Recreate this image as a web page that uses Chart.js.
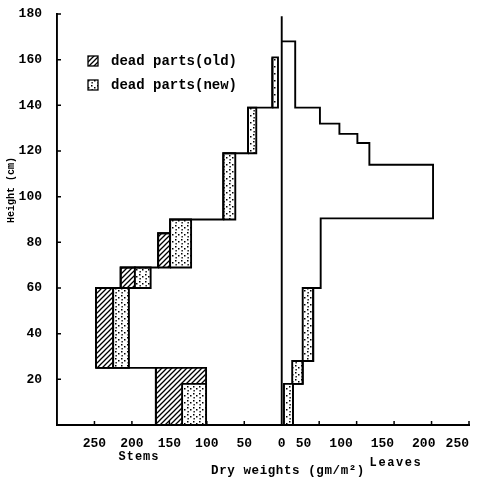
<!DOCTYPE html>
<html><head><meta charset="utf-8">
<script src="https://cdn.jsdelivr.net/npm/chart.js@4/dist/chart.umd.min.js"></script>
<style>html,body{margin:0;padding:0;background:#fff;}</style>
</head><body>
<canvas id="c" width="478" height="482"></canvas>
<script>
// ---- data (heights in cm, dry weights in gm/m^2) ----
const xTicks = [-250, -200, -150, -100, -50, 0, 50, 100, 150, 200, 250];
const xTickLabels = ['250', '200', '150', '100', '50', '0', '50    ', '100    ', '150   ', '200  ', '250   '];
const yTicks = [20, 40, 60, 80, 100, 120, 140, 160, 180];

// stems: dead parts (old)
const stemOldLow  = [0, 25, 60, 69];
const stemOldHigh = [25, 60, 69, 84];
const stemOldFrom = [101, 225, 196, 149];
const stemOldTo   = [168, 248, 215, 165];
// stems: dead parts (new)
const stemNewLow  = [0, 25, 60, 69, 90, 119, 139];
const stemNewHigh = [18, 60, 69, 90, 119, 139, 161];
const stemNewFrom = [101, 204, 175, 121, 62, 34, 5];
const stemNewTo   = [133, 225, 196, 149, 78, 45, 12.5];
// stems: outer profile per layer
const stemLayerLow  = [0, 25, 60, 69, 84, 90, 119, 139];
const stemLayerHigh = [25, 60, 69, 84, 90, 119, 139, 161];
const stemTotal     = [168, 248, 215, 165, 149, 78, 45, 12.5];

// leaves: profile per layer
const leafLow   = [0, 18, 28, 60, 90.5, 114, 123.5, 127.5, 132, 139];
const leafHigh  = [18, 28, 60, 90.5, 114, 123.5, 127.5, 132, 139, 168];
const leafTotal = [15, 28, 42, 52, 202, 117, 101, 77, 51, 18];
// leaves: dead parts (new)
const leafNewLow  = [0, 18, 28];
const leafNewHigh = [18, 28, 60];
const leafNewFrom = [3, 14, 28];
const leafNewTo   = [15, 28, 42];

const centreTop = 179;
const legendLabels = ['dead parts(old)', 'dead parts(new)'];

// ---- patterns ----
function makeHatch(){
  const c = document.createElement('canvas'); c.width = 5; c.height = 5;
  const g = c.getContext('2d');
  g.fillStyle = '#fff'; g.fillRect(0,0,5,5);
  g.strokeStyle = '#000'; g.lineWidth = 1.3; g.lineCap='square';
  g.beginPath();
  g.moveTo(0,5); g.lineTo(5,0);
  g.moveTo(-1,1); g.lineTo(1,-1);
  g.moveTo(4,6); g.lineTo(6,4);
  g.stroke();
  return g.createPattern(c, 'repeat');
}
function makeDots(){
  const c = document.createElement('canvas'); c.width = 6; c.height = 7;
  const g = c.getContext('2d');
  g.fillStyle = '#fff'; g.fillRect(0,0,6,7);
  g.fillStyle = '#000';
  g.fillRect(1,1,1.5,1.5);
  g.fillRect(4,3,1.5,1.5);
  g.fillRect(1.5,5,1.3,1.5);
  return g.createPattern(c, 'repeat');
}
const HATCH = makeHatch();
const DOTS = makeDots();

function rect(x0, x1, y0, y1){
  return [{x:x0,y:y0},{x:x1,y:y0},{x:x1,y:y1},{x:x0,y:y1},{x:x0,y:y0}];
}
const LW = 1.9;
const datasets = [];
function addRect(pts, pat, order){
  datasets.push({data: pts, showLine: true, fill: 'shape', backgroundColor: pat,
    borderColor: '#000', borderWidth: LW, pointRadius: 0, tension: 0, order: order,
    borderJoinStyle: 'miter'});
}
for (let i = 0; i < stemOldLow.length; i++)
  addRect(rect(-stemOldTo[i], -stemOldFrom[i], stemOldLow[i], stemOldHigh[i]), HATCH, 3);
for (let i = 0; i < stemNewLow.length; i++)
  addRect(rect(-stemNewTo[i], -stemNewFrom[i], stemNewLow[i], stemNewHigh[i]), DOTS, 2);
for (let i = 0; i < leafNewLow.length; i++)
  addRect(rect(leafNewFrom[i], leafNewTo[i], leafNewLow[i], leafNewHigh[i]), DOTS, 2);

// stem profile
const stemProfile = [];
for (let i = stemTotal.length - 1; i >= 0; i--) {
  stemProfile.push({x: -stemTotal[i], y: stemLayerHigh[i]});
  stemProfile.push({x: -stemTotal[i], y: stemLayerLow[i]});
}
// leaf profile
const leafProfile = [{x: 0, y: leafHigh[leafHigh.length-1]}];
for (let i = leafTotal.length - 1; i >= 0; i--) {
  leafProfile.push({x: leafTotal[i], y: leafHigh[i]});
  leafProfile.push({x: leafTotal[i], y: leafLow[i]});
}
function addLine(pts){
  datasets.push({data: pts, showLine: true, fill: false, borderColor: '#000',
    borderWidth: LW, pointRadius: 0, tension: 0, order: 1, borderJoinStyle: 'miter'});
}
addLine(stemProfile);
addLine(leafProfile);
addLine([{x:0,y:0},{x:0,y:centreTop}]);

const MONO = '"Liberation Mono", "DejaVu Sans Mono", monospace';

const decor = {
  id: 'decor',
  afterDraw(chart){
    const ctx = chart.ctx, xs = chart.scales.x, ys = chart.scales.y;
    const a = chart.chartArea;
    ctx.save();
    ctx.strokeStyle = '#000'; ctx.lineWidth = 1.5;
    // inward tick marks
    ctx.beginPath();
    xTicks.forEach(v => { if (v === 0) return; const px = xs.getPixelForValue(v);
      ctx.moveTo(px, a.bottom); ctx.lineTo(px, a.bottom - 4); });
    yTicks.forEach(v => { const py = ys.getPixelForValue(v);
      ctx.moveTo(a.left, py); ctx.lineTo(a.left + 4, py); });
    ctx.stroke();

    // legend
    const rows = [{y: 61, pat: HATCH}, {y: 85, pat: DOTS}];
    rows.forEach((r, i) => {
      ctx.fillStyle = r.pat; ctx.fillRect(88, r.y - 5, 10, 10);
      ctx.lineWidth = 1.3; ctx.strokeRect(88, r.y - 5, 10, 10);
      ctx.fillStyle = '#000'; ctx.font = 'bold 14px ' + MONO;
      ctx.textAlign = 'left'; ctx.textBaseline = 'middle';
      ctx.fillText(legendLabels[i], 111, r.y);
    });

    // axis titles
    ctx.fillStyle = '#000'; ctx.textAlign = 'center'; ctx.textBaseline = 'middle';
    ctx.font = 'bold 12px ' + MONO;
    ctx.letterSpacing = '1px';
    ctx.fillText('Stems', 139, 457);
    ctx.letterSpacing = '1.6px';
    ctx.fillText('Leaves', 396, 463);
    ctx.letterSpacing = '0.6px';
    ctx.font = 'bold 12.5px ' + MONO;
    ctx.fillText('Dry weights (gm/m\u00B2)', 288, 471);
    ctx.letterSpacing = '0px';
    ctx.translate(11, 190); ctx.rotate(-Math.PI/2);
    ctx.font = 'bold 10px ' + MONO;
    ctx.fillText('Height (cm)', 0, 0);
    ctx.restore();
  }
};

new Chart(document.getElementById('c'), {
  type: 'scatter',
  data: { datasets },
  options: {
    responsive: false, animation: false, devicePixelRatio: 1,
    layout: { padding: { top: 14, right: 9, left: 0, bottom: 0 } },
    plugins: { legend: { display: false }, tooltip: { enabled: false } },
    scales: {
      x: {
        type: 'linear', min: -300, max: 250,
        afterBuildTicks: s => { s.ticks = xTicks.map(v => ({value: v})); },
        ticks: { callback: (v) => { const i = xTicks.indexOf(v); return i >= 0 ? xTickLabels[i] : ''; },
          color: '#000', padding: 3,
          maxRotation: 0, autoSkip: false, font: { family: MONO, weight: 'bold', size: 13 } },
        grid: { display: false },
        border: { display: true, color: '#000', width: 1.9 },
        afterFit: s => { s.height = 57; s.paddingLeft = 0; s.paddingRight = 0; }
      },
      y: {
        type: 'linear', min: 0, max: 180,
        afterBuildTicks: s => { s.ticks = yTicks.map(v => ({value: v})); },
        ticks: { color: '#000', padding: 7,
          font: { family: MONO, weight: 'bold', size: 13 } },
        grid: { display: false },
        border: { display: true, color: '#000', width: 1.9 },
        afterFit: s => { s.width = 57; s.paddingTop = 0; s.paddingBottom = 0; }
      }
    }
  },
  plugins: [decor]
});
</script>
</body></html>
